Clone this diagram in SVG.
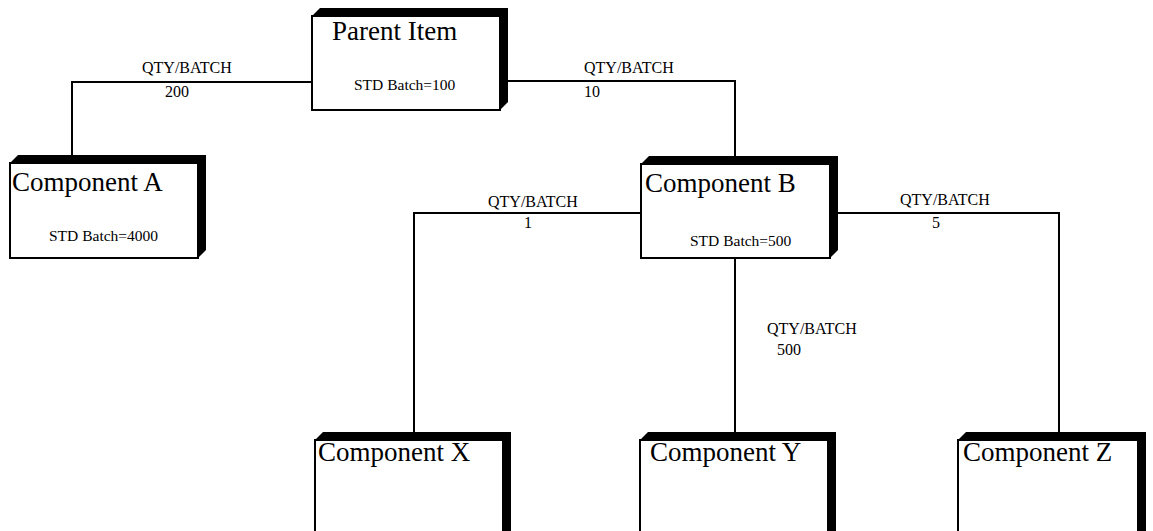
<svg xmlns="http://www.w3.org/2000/svg" width="1153" height="531" viewBox="0 0 1153 531">
<style>
.front{fill:#fff;stroke:#000;stroke-width:2}
.band{fill:#000}
.conn{fill:none;stroke:#000;stroke-width:2}
.big{font-family:"Liberation Serif","Times New Roman",serif;font-size:27px;fill:#000}
.small{font-family:"Liberation Serif","Times New Roman",serif;font-size:15.5px;fill:#000}
.lbl{font-family:"Liberation Serif","Times New Roman",serif;font-size:16px;fill:#000}
</style>
<rect width="1153" height="531" fill="#fff"/>
<g id="connectors">
<polyline class="conn" points="312,82 72,82 72,157"/>
<polyline class="conn" points="508,81 735,81 735,157"/>
<polyline class="conn" points="641,213 414,213 414,433"/>
<polyline class="conn" points="837,213 1059,213 1059,433"/>
<polyline class="conn" points="735,258 735,433"/>
<text class="lbl" x="142" y="73">QTY/BATCH</text>
<text class="lbl" x="165" y="97">200</text>
<text class="lbl" x="584" y="73">QTY/BATCH</text>
<text class="lbl" x="584" y="97">10</text>
<text class="lbl" x="488" y="207">QTY/BATCH</text>
<text class="lbl" x="524" y="228">1</text>
<text class="lbl" x="900" y="205">QTY/BATCH</text>
<text class="lbl" x="932" y="228">5</text>
<text class="lbl" x="767" y="334">QTY/BATCH</text>
<text class="lbl" x="777" y="355">500</text>
</g>
<g id="parent">
<polygon class="band" points="312,16 320,8 508,8 508,102 500,110 500,16"/>
<rect class="front" x="312" y="16" width="188" height="94"/>
<text class="big" x="332" y="40">Parent Item</text>
<text class="small" x="354" y="90">STD Batch=100</text>
</g>
<g id="compA">
<polygon class="band" points="10,163 18,155 206,155 206,250 198,258 198,163"/>
<rect class="front" x="10" y="163" width="188" height="95"/>
<text class="big" x="12" y="191">Component A</text>
<text class="small" x="49" y="241">STD Batch=4000</text>
</g>
<g id="compB">
<polygon class="band" points="641,164 649,156 838,156 838,250 830,258 830,164"/>
<rect class="front" x="641" y="164" width="189" height="94"/>
<text class="big" x="645" y="192">Component B</text>
<text class="small" x="690" y="246">STD Batch=500</text>
</g>
<g id="compX">
<polygon class="band" points="315,440 323,432 511,432 511,532 503,540 503,440"/>
<rect class="front" x="315" y="440" width="188" height="100"/>
<text class="big" x="318" y="461">Component X</text>
</g>
<g id="compY">
<polygon class="band" points="640,440 648,432 836,432 836,532 828,540 828,440"/>
<rect class="front" x="640" y="440" width="188" height="100"/>
<text class="big" x="650" y="461">Component Y</text>
</g>
<g id="compZ">
<polygon class="band" points="958,440 966,432 1146,432 1146,532 1138,540 1138,440"/>
<rect class="front" x="958" y="440" width="180" height="100"/>
<text class="big" x="963" y="461">Component Z</text>
</g>
</svg>
